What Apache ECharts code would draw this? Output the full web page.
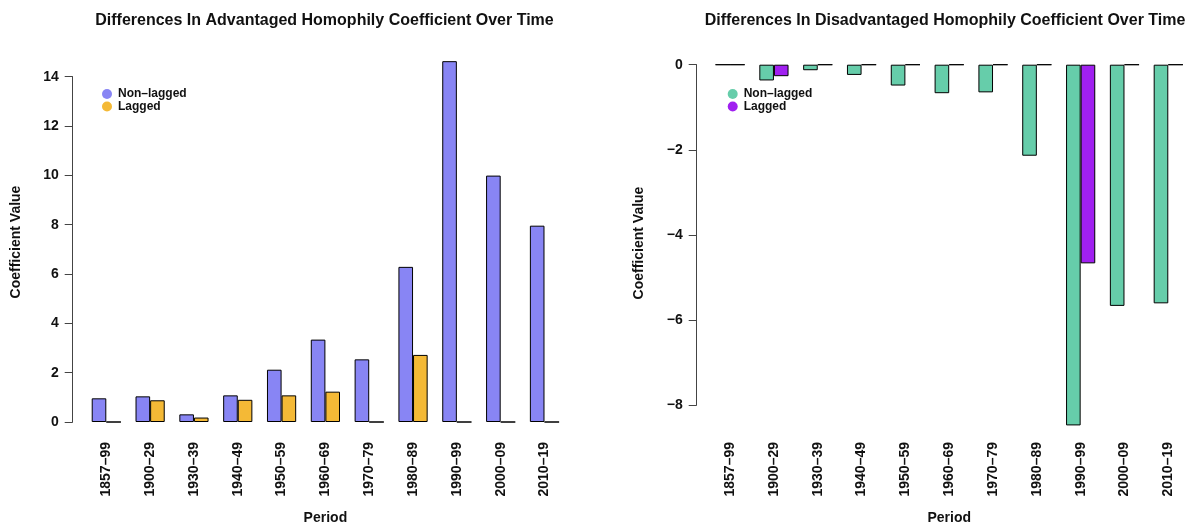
<!DOCTYPE html>
<html>
<head>
<meta charset="utf-8">
<script src="https://cdn.jsdelivr.net/npm/echarts@6/dist/echarts.min.js"></script>
<style>
html,body{margin:0;padding:0;background:#fff;}
#c{width:1198px;height:525px;}
</style>
</head>
<body>
<div id="c"></div>
<script>
const periods = ['1857–99','1900–29','1930–39','1940–49','1950–59','1960–69','1970–79','1980–89','1990–99','2000–09','2010–19'];
const advNonLagged = [0.96, 1.04, 0.31, 1.08, 2.12, 3.34, 2.54, 6.29, 14.63, 9.99, 7.96];
const advLagged    = [0, 0.88, 0.18, 0.90, 1.08, 1.23, 0, 2.72, 0, 0, 0];
const disNonLagged = [0, -0.37, -0.13, -0.24, -0.49, -0.67, -0.65, -2.14, -8.48, -5.67, -5.61];
const disLagged    = [0, -0.27, 0, 0, 0, 0, 0, 0, -4.67, 0, 0];
const advTicks = [0, 14, 2];
const disTicks = [-8, 0, 2];

const FONT = '"Liberation Sans", Arial, Helvetica, sans-serif';
const chart = echarts.init(document.getElementById('c'), null, {renderer: 'canvas'});

function yAxisCfg(gi, mm, offset) {
  return {
    type: 'value', gridIndex: gi, min: mm[0], max: mm[1], interval: mm[2],
    offset: offset,
    splitLine: {show: false},
    axisLine: {show: true, lineStyle: {color: '#444', width: 1}},
    axisTick: {show: true, length: 8, lineStyle: {color: '#444'}},
    axisLabel: {color: '#111', fontFamily: FONT, fontWeight: 'bold', fontSize: 14, margin: 14,
      formatter: v => String(v).replace('-', '\u2212')}
  };
}
function xAxisCfg(gi, margin, nameGap) {
  return {
    type: 'category', gridIndex: gi, data: periods, position: 'bottom',
    axisLine: {show: false, onZero: false}, axisTick: {show: false},
    axisLabel: {rotate: 90, interval: 0, color: '#111', fontFamily: FONT, fontWeight: 'bold', fontSize: 14, margin: margin},
    name: 'Period', nameLocation: 'middle', nameGap: nameGap,
    nameTextStyle: {color: '#111', fontFamily: FONT, fontWeight: 'bold', fontSize: 14}
  };
}
function barSeries(name, data, color, xi, yi) {
  return {
    type: 'bar', name: name, data: data, xAxisIndex: xi, yAxisIndex: yi,
    barWidth: '33.33%', barGap: '0%', clip: false,
    itemStyle: {color: color, borderColor: '#000', borderWidth: 1},
    emphasis: {disabled: true}
  };
}
function legendCfg(names, colors, left) {
  return {
    data: names.map((n, i) => ({name: n, itemStyle: {color: colors[i], borderWidth: 0}})),
    orient: 'vertical', left: left, top: 88, padding: 0, icon: 'circle',
    itemWidth: 10, itemHeight: 10, itemGap: 0.5, selectedMode: false,
    textStyle: {fontFamily: FONT, fontWeight: 'bold', fontSize: 12, lineHeight: 12, color: '#111', padding: [0,0,0,1]}
  };
}

chart.setOption({
  animation: false,
  backgroundColor: '#fff',
  title: [
    {text: 'Differences In Advantaged Homophily Coefficient Over Time', left: 324.5, top: 13, padding: 0, textAlign: 'center',
     textStyle: {fontFamily: FONT, fontWeight: 'bold', fontSize: 16, color: '#111'}},
    {text: 'Differences In Disadvantaged Homophily Coefficient Over Time', left: 945, top: 13, padding: 0, textAlign: 'center',
     textStyle: {fontFamily: FONT, fontWeight: 'bold', fontSize: 16, color: '#111'}}
  ],
  grid: [
    {left: 84.4, width: 482, top: 76.7, height: 345.3, outerBoundsMode: 'none', containLabel: false},
    {left: 708.2, width: 482, top: 64.7, height: 340.3, outerBoundsMode: 'none', containLabel: false}
  ],
  legend: [
    legendCfg(['Non–lagged', 'Lagged'], ['#8885F4', '#F4B936'], 102),
    legendCfg(['Non–lagged ', 'Lagged '], ['#66CDAA', '#A020F0'], 727.7)
  ],
  xAxis: [xAxisCfg(0, 20, 89), xAxisCfg(1, 37, 106)],
  yAxis: [yAxisCfg(0, advTicks, 11.7), yAxisCfg(1, disTicks, 11.5)],
  graphic: [
    {type: 'text', x: 16, y: 242, rotation: Math.PI / 2,
     style: {text: 'Coefficient Value', fill: '#111', font: 'bold 14px ' + FONT, align: 'center', verticalAlign: 'middle'}},
    {type: 'text', x: 639, y: 243, rotation: Math.PI / 2,
     style: {text: 'Coefficient Value', fill: '#111', font: 'bold 14px ' + FONT, align: 'center', verticalAlign: 'middle'}}
  ],
  series: [
    barSeries('Non–lagged', advNonLagged, '#8885F4', 0, 0),
    barSeries('Lagged', advLagged, '#F4B936', 0, 0),
    barSeries('Non–lagged ', disNonLagged, '#66CDAA', 1, 1),
    barSeries('Lagged ', disLagged, '#A020F0', 1, 1)
  ]
});
</script>
</body>
</html>
